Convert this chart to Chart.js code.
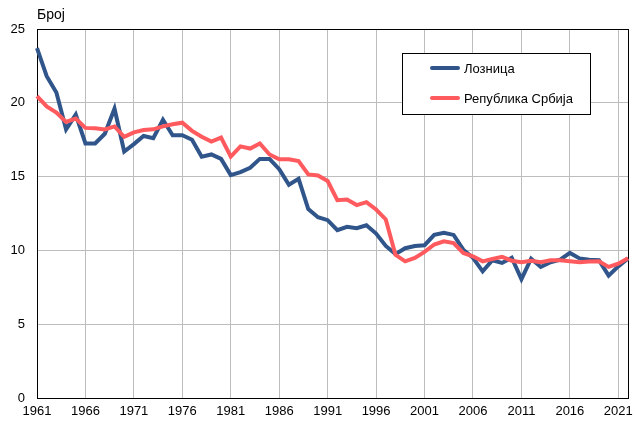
<!DOCTYPE html>
<html>
<head>
<meta charset="utf-8">
<script src="https://cdn.jsdelivr.net/npm/chart.js@4/dist/chart.umd.min.js"></script>
<style>
  html, body { margin: 0; padding: 0; background: #fff; }
  #wrap { width: 635px; height: 421px; }
</style>
</head>
<body>
<div id="wrap"><canvas id="myChart" width="635" height="421"></canvas></div>
<script>
const years = [];
for (let y = 1961; y <= 2022; y++) years.push(String(y));

const loznica = [
    23.7, 21.8, 20.7, 18.2, 19.2, 17.25, 17.25, 17.9, 19.6, 16.7,
    17.2, 17.75, 17.6, 18.85, 17.8, 17.8, 17.5, 16.35, 16.5, 16.2,
    15.1, 15.3, 15.6, 16.2, 16.2, 15.5, 14.45, 14.85, 12.8, 12.25,
    12.05, 11.37, 11.6, 11.5, 11.7, 11.14, 10.3, 9.75, 10.15, 10.3,
    10.35, 11.05, 11.2, 11.05, 10.05, 9.5, 8.58, 9.33, 9.15, 9.5,
    8.05, 9.44, 8.88, 9.2, 9.37, 9.83, 9.46, 9.37, 9.33, 8.29,
    8.92, 9.46
];

const srbija = [
    20.45, 19.75, 19.34, 18.7, 18.93, 18.3, 18.27, 18.2, 18.4, 17.7,
    18.0, 18.15, 18.2, 18.4, 18.55, 18.65, 18.1, 17.7, 17.37, 17.64,
    16.35, 17.05, 16.9, 17.25, 16.5, 16.17, 16.17, 16.05, 15.15, 15.08,
    14.7, 13.4, 13.45, 13.07, 13.27, 12.77, 12.1, 9.7, 9.26, 9.49,
    9.9, 10.4, 10.62, 10.5, 9.83, 9.6, 9.26, 9.42, 9.56, 9.3,
    9.2, 9.3, 9.2, 9.33, 9.33, 9.26, 9.2, 9.24, 9.26, 8.88,
    9.1, 9.46
];

const seriesNames = ['Лозница', 'Република Србија'];
const yTitle = 'Број';

const FONT = 'Liberation Sans, Arial, sans-serif';

// frame around the plot + y title + legend box
const extras = {
    id: 'extras',
    beforeDatasetsDraw(chart) {
        const a = chart.chartArea;
        const ctx = chart.ctx;
        ctx.save();
        ctx.strokeStyle = '#000';
        ctx.lineWidth = 1;
        ctx.strokeRect(Math.round(a.left) + 0.5, Math.round(a.top) + 0.5,
            Math.round(a.right - a.left), Math.round(a.bottom - a.top));
        ctx.restore();
    },
    afterDraw(chart) {
        const a = chart.chartArea;
        const ctx = chart.ctx;
        ctx.save();
        ctx.fillStyle = '#000';
        ctx.font = '14px ' + FONT;
        ctx.textBaseline = 'alphabetic';
        ctx.textAlign = 'left';
        ctx.fillText(yTitle, a.left, 19);

        // legend
        const bx = 402, by = 53, bw = 188, bh = 61;
        ctx.fillStyle = '#fff';
        ctx.fillRect(bx, by, bw, bh);
        ctx.strokeStyle = '#000';
        ctx.lineWidth = 1;
        ctx.strokeRect(bx + 0.5, by + 0.5, bw, bh);
        ctx.font = '13px ' + FONT;
        ctx.textBaseline = 'middle';
        chart.data.datasets.forEach((ds, i) => {
            const ly = by + 15 + i * 30;
            ctx.strokeStyle = ds.borderColor;
            ctx.lineWidth = 4;
            ctx.lineCap = 'round';
            ctx.beginPath();
            ctx.moveTo(bx + 30, ly);
            ctx.lineTo(bx + 56, ly);
            ctx.stroke();
            ctx.fillStyle = '#000';
            ctx.fillText(ds.label, bx + 62, ly + 1);
        });
        ctx.restore();
    }
};

const ctx = document.getElementById('myChart').getContext('2d');
new Chart(ctx, {
    type: 'line',
    data: {
        labels: years,
        datasets: [
            {
                label: seriesNames[0],
                data: loznica,
                borderColor: '#30558A',
                borderWidth: 4,
                pointRadius: 0,
                tension: 0,
                order: 1
            },
            {
                label: seriesNames[1],
                data: srbija,
                borderColor: '#FF5A5E',
                borderWidth: 4,
                pointRadius: 0,
                tension: 0,
                order: 0
            }
        ]
    },
    options: {
        responsive: false,
        animation: false,
        layout: { padding: { left: 0, right: 7, top: 29, bottom: 0 } },
        plugins: {
            legend: { display: false },
            tooltip: { enabled: false }
        },
        scales: {
            x: {
                type: 'category',
                offset: false,
                afterFit: function (s) {
                    s.height = 23;
                    s.paddingLeft = 0;
                    s.paddingRight = 0;
                },
                grid: { color: '#BDBDBD', drawTicks: false },
                border: { color: '#000' },
                ticks: {
                    autoSkip: false,
                    maxRotation: 0,
                    padding: 6,
                    color: '#000',
                    font: { family: FONT, size: 13 },
                    callback: function (value, index) {
                        return index % 5 === 0 ? this.getLabelForValue(value) : null;
                    }
                }
            },
            y: {
                min: 0,
                max: 25,
                afterFit: function (s) {
                    s.width = 37;
                    s.paddingTop = 0;
                    s.paddingBottom = 0;
                },
                grid: { color: '#BDBDBD', drawTicks: false },
                border: { color: '#000' },
                ticks: {
                    stepSize: 5,
                    padding: 12,
                    color: '#000',
                    font: { family: FONT, size: 13 }
                }
            }
        }
    },
    plugins: [extras]
});
</script>
</body>
</html>
